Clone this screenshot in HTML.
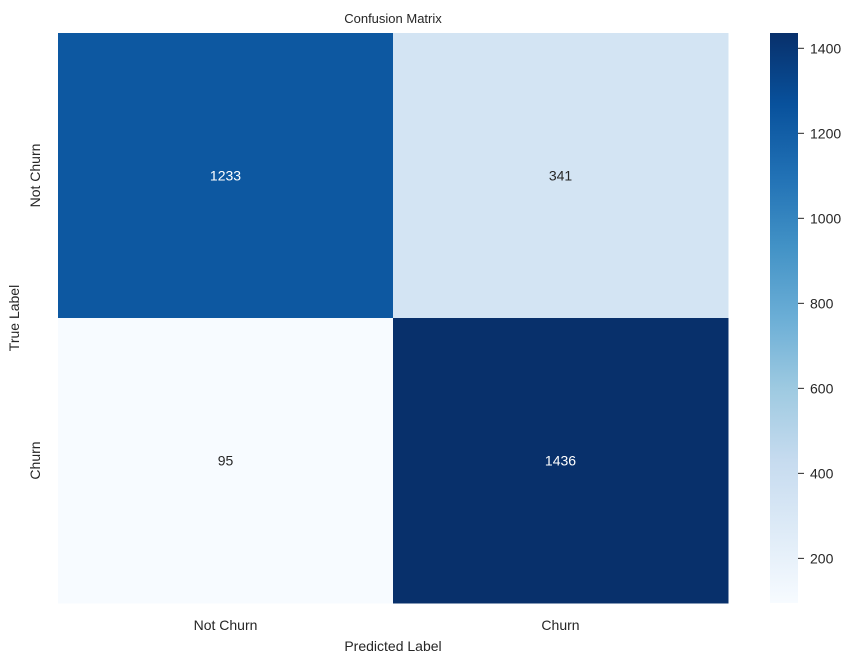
<!DOCTYPE html>
<html><head><meta charset="utf-8"><style>
body{margin:0;background:#fff;font-family:"Liberation Sans",Arial,sans-serif;}
svg text{font-family:"Liberation Sans",Arial,sans-serif;fill:#262626;}
</style></head><body>
<svg id="chart" width="847" height="661" xmlns="http://www.w3.org/2000/svg">
<defs><linearGradient id="cbgrad" x1="0" y1="1" x2="0" y2="0">
<stop offset="0" stop-color="#f7fbff"/><stop offset="0.125" stop-color="#deebf7"/><stop offset="0.25" stop-color="#c6dbef"/><stop offset="0.375" stop-color="#9ecae1"/><stop offset="0.5" stop-color="#6baed6"/><stop offset="0.625" stop-color="#4292c6"/><stop offset="0.75" stop-color="#2171b5"/><stop offset="0.875" stop-color="#08519c"/><stop offset="1" stop-color="#08306b"/>
</linearGradient></defs>
<text x="393" y="23" text-anchor="middle" font-size="13">Confusion Matrix</text>
<g id="cells"></g>
<g id="xticks"></g>
<g id="yticks"></g>
<text x="393" y="651" text-anchor="middle" font-size="14">Predicted Label</text>
<text transform="translate(19,318) rotate(-90)" text-anchor="middle" font-size="14">True Label</text>
<rect x="770" y="33" width="28" height="570" fill="url(#cbgrad)"/>
<g id="cbticks"></g>
</svg>
<script>
const rowLabels = ["Not Churn", "Churn"];
const colLabels = ["Not Churn", "Churn"];
const matrix = [[1233, 341], [95, 1436]];
const cbTicks = [200, 400, 600, 800, 1000, 1200, 1400];

const NS = "http://www.w3.org/2000/svg";
const L = 58, R = 728, T = 33, B = 603;
const flat = matrix.flat();
const vmin = Math.min(...flat), vmax = Math.max(...flat);
const stops = ["#f7fbff","#deebf7","#c6dbef","#9ecae1","#6baed6","#4292c6","#2171b5","#08519c","#08306b"];
function hex(h){return [1,3,5].map(i=>parseInt(h.substr(i,2),16));}
function color(v){
  let t=(v-vmin)/(vmax-vmin); t=Math.max(0,Math.min(1,t));
  const p=t*(stops.length-1), i=Math.min(Math.floor(p),stops.length-2), f=p-i;
  const a=hex(stops[i]), b=hex(stops[i+1]);
  return "rgb("+a.map((c,k)=>Math.round(c+(b[k]-c)*f)).join(",")+")";
}
function lum(v){let t=(v-vmin)/(vmax-vmin);return t;}
const cw=(R-L)/colLabels.length, ch=(B-T)/rowLabels.length;
function xPos(j){return L+j*cw;}
function yPos(i){return T+i*ch;}
function cbY(v){return B-(v-vmin)/(vmax-vmin)*(B-T);}
function mk(tag,attrs,parent){const e=document.createElementNS(NS,tag);for(const k in attrs)e.setAttribute(k,attrs[k]);parent.appendChild(e);return e;}
const cells=document.getElementById("cells");
matrix.forEach((row,i)=>row.forEach((v,j)=>{
  const r=mk("rect",{x:xPos(j),y:yPos(i),width:cw+0.5,height:ch+0.5,fill:color(v)},cells);
  
  
  const t=mk("text",{x:xPos(j)+cw/2,y:yPos(i)+ch/2+5,"text-anchor":"middle","font-size":"14"},cells);
  
  
  t.style.fill = lum(v)>0.5 ? "#ffffff" : "#262626";
  t.textContent=v;
}));
const xt=document.getElementById("xticks");
colLabels.forEach((c,j)=>{
  const t=mk("text",{x:xPos(j)+cw/2,y:630,"text-anchor":"middle","font-size":"14"},xt);
  
  
  t.textContent=c;
});
const yt=document.getElementById("yticks");
rowLabels.forEach((c,i)=>{
  const y=yPos(i)+ch/2;
  const t=mk("text",{transform:"translate(40,"+y+") rotate(-90)","text-anchor":"middle","font-size":"14"},yt);
  
  
  t.textContent=c;
});
const cbt=document.getElementById("cbticks");
cbTicks.forEach(v=>{
  const y=cbY(v);
  const l=mk("line",{x1:798,x2:804,y1:y,y2:y,stroke:"#262626","stroke-width":"1"},cbt);
  
  
  const t=mk("text",{x:810,y:y+5,"font-size":"14"},cbt);
  
  
  t.textContent=v;
});
</script>
</body></html>
